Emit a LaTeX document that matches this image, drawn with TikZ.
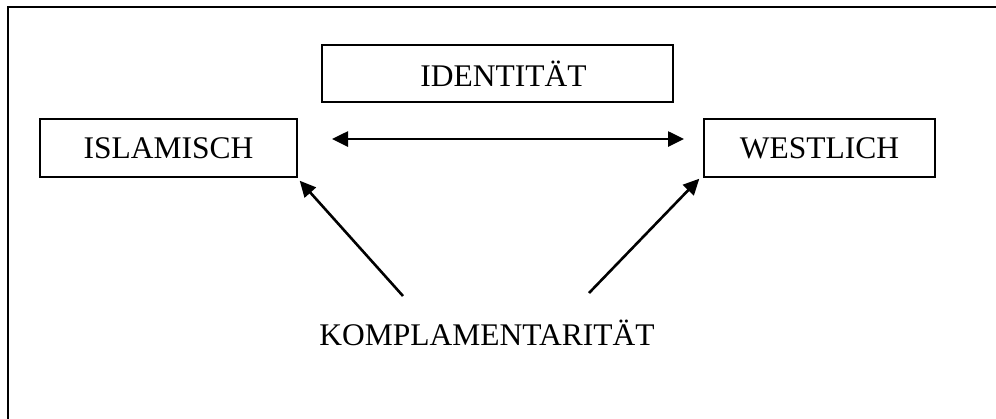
\documentclass[tikz,border=0pt]{standalone}
\usepackage{fontspec}
\setmainfont{Liberation Serif}
\usetikzlibrary{arrows.meta}
\tikzset{
  box/.style={draw=black, line width=1.4bp, inner sep=0pt, font=\fontsize{31.5bp}{36bp}\selectfont},
  lbl/.style={inner sep=0pt, font=\fontsize{31.5bp}{36bp}\selectfont},
  tip/.style={},
  conn/.style={line width=2.6bp, -{Triangle[length=16bp,width=15bp]}},
  biconn/.style={line width=2.6bp, {Triangle[length=16bp,width=15bp]}-{Triangle[length=16bp,width=15bp]}},
  frame/.style={line width=2.8bp}
}
\begin{document}
\begin{tikzpicture}[x=1bp,y=-1bp]
\useasboundingbox (0,0) rectangle (996,418);
\draw[frame] (8,420) -- (8,7) -- (998,7);
\node[box, minimum width=351bp, minimum height=57bp] (ident) at (497.5,73.5) {\hspace{12bp}IDENTITÄT};
\node[box, minimum width=257bp, minimum height=58bp] (isl) at (168.5,148) {ISLAMISCH};
\node[box, minimum width=231bp, minimum height=58bp] (west) at (819.5,148) {WESTLICH};
\node[lbl] (komp) at (487,333) {KOMPLAMENTARITÄT};
\coordinate (hl) at (332,139);
\coordinate (hr) at (684,139);
\coordinate (kl) at (403,296);
\coordinate (kr) at (589,293);
\draw[biconn] (hl) -- (hr);
\draw[conn] (kl) -- ([shift={(2,3)}]isl.south east);
\draw[conn] (kr) -- ([shift={(-4,1)}]west.south west);
\end{tikzpicture}
\end{document}
